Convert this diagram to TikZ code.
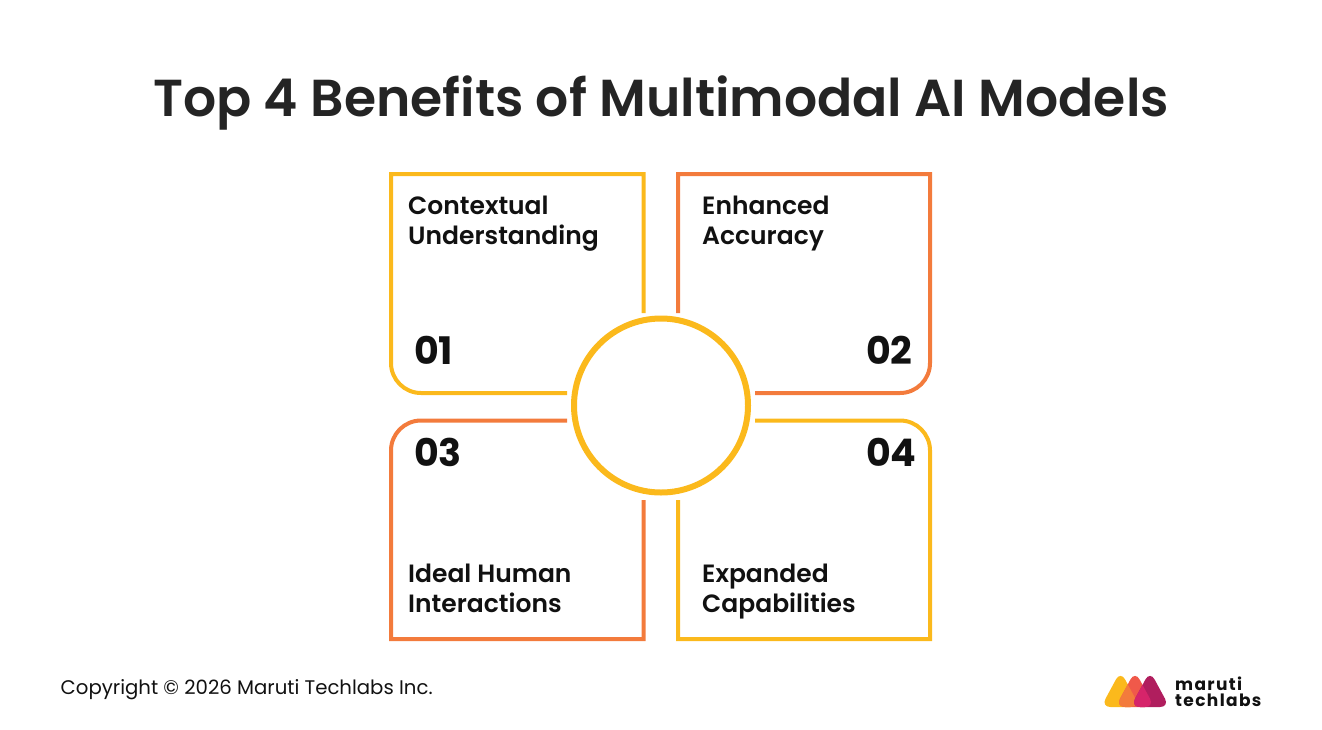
\documentclass[tikz,border=0pt]{standalone}
\usepackage{fontspec}
\usepackage{tikz}
\setmainfont{Poppins}
\newfontfamily\semifont{Poppins SemiBold}
\newfontfamily\logofont[LetterSpace=8]{Poppins}
\definecolor{mtyellow}{HTML}{FBB91C}
\definecolor{mtorange}{HTML}{F37B3C}
\definecolor{mtred}{HTML}{F0594A}
\definecolor{mtpink}{HTML}{D6246A}
\definecolor{mtplum}{HTML}{B01E5E}
\definecolor{mtink}{HTML}{111111}
\tikzset{
    panel/.style={line width=4pt, rounded corners=0pt},
    label/.style={anchor=base west, inner sep=0pt, text=mtink, font=\fontsize{25}{30}\selectfont\semifont},
    numlabel/.style={anchor=base west, inner sep=0pt, text=mtink, font=\fontsize{38}{38}\selectfont\bfseries},
    logotext/.style={anchor=base west, inner sep=0pt, text=mtink, font=\fontsize{17}{17}\selectfont\logofont\bfseries},
}
\newcommand{\logotri}[1]{(#1, 671) [rounded corners=9.5pt] -- (#1+19.5, 707) -- (#1-19.5, 707) -- cycle}
\begin{document}
\begin{tikzpicture}[x=1pt, y=-1pt]
\useasboundingbox (0, 0) rectangle (1322, 729);
\path (661, 116) node[anchor=base, inner sep=0pt, text=black!86, font=\fontsize{52}{52}\selectfont\semifont] (title) {Top 4 Benefits of Multimodal AI Models};

% panels
\draw[panel, mtyellow] (643.5, 313) -- (643.5, 174) -- (391, 174) [rounded corners=30pt] -- (391, 393) -- (567, 393);
\draw[panel, mtorange] (678, 313) -- (678, 174) -- (930, 174) [rounded corners=30pt] -- (930, 393) -- (755, 393);
\draw[panel, mtorange] (567, 420.5) [rounded corners=30pt] -- (391, 420.5) [rounded corners=0pt] -- (391, 639) -- (643.5, 639) -- (643.5, 500);
\draw[panel, mtyellow] (755, 420.5) [rounded corners=30pt] -- (930, 420.5) [rounded corners=0pt] -- (930, 639) -- (678, 639) -- (678, 500);
\path (661, 405.5) node[draw=mtyellow, circle, line width=6pt, minimum size=174pt, inner sep=0pt] (hub) {};

\foreach \na/\x/\y/\txt in {a1/408/214/Contextual, a2/408/244/Understanding, b1/702/214/Enhanced, b2/702/244/Accuracy, c1/408/582/Ideal Human, c2/408/612/Interactions, d1/702/582/Expanded, d2/702/612/Capabilities}
    \path (\x, \y) node[label] (txt-\na) {\txt};
\foreach \na/\x/\y/\txt in {1/414/364/01, 2/866/364/02, 3/414/466/03, 4/866/466/04}
    \path (\x, \y) node[numlabel] (num-\na) {\txt};

\path (60.5, 694) node[anchor=base west, inner sep=0pt, text=mtink, font=\fontsize{19.7}{20}\selectfont] (copy) {Copyright © 2026 Maruti Techlabs Inc.};

% logo
\fill[mtyellow] \logotri{1120.5};
\fill[mtred] \logotri{1135};
\begin{scope}
    \clip \logotri{1120.5};
    \fill[mtorange] \logotri{1135};
\end{scope}
\fill[mtplum] \logotri{1150};
\begin{scope}
    \clip \logotri{1135};
    \fill[mtpink] \logotri{1150};
\end{scope}
\path (1175, 690) node[logotext] (logo-a) {maruti};
\path (1175, 706) node[logotext] (logo-b) {techlabs};
\end{tikzpicture}
\end{document}
